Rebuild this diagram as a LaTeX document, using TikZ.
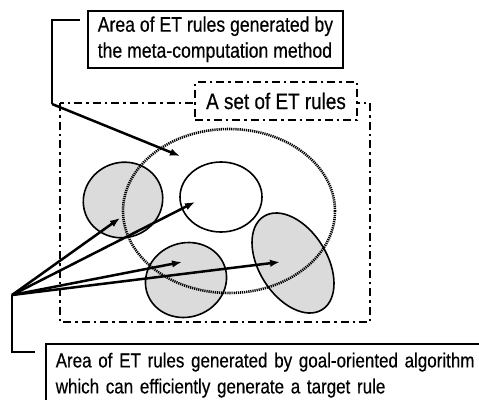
\documentclass[tikz,border=0pt]{standalone}
\usepackage{fontspec}
\usepackage{tikz}
\usetikzlibrary{arrows.meta,shapes.geometric}
\newfontfamily\narrowSans{Liberation Sans}[FakeStretch=0.84, FakeBold=0.4]
\tikzstyle{calloutBox}=[shape = rectangle, draw, line width = 1.5pt, align = left, inner xsep = 10pt, font = \narrowSans\fontsize{21}{26}\selectfont]
\tikzstyle{dashDot}=[line width = 2.4pt, dash pattern = on 8pt off 4pt on 2.5pt off 4pt]

\begin{document}
\begin{tikzpicture}[x = 1pt, y = -1pt]
\tikzstyle{grayArea}=[shape = ellipse, inner sep = 0pt, draw, line width = 1.6pt, fill = black!14]
\tikzstyle{whiteArea}=[shape = ellipse, inner sep = 0pt, draw, line width = 1.6pt]
\tikzstyle{metaArea}=[shape = ellipse, inner sep = 0pt, draw, line width = 2.6pt, dash pattern = on 1.2pt off 0.9pt]
\tikzstyle{setLabel}=[shape = rectangle, draw, dashDot, fill = white, minimum width = 162pt, minimum height = 38pt, font = \narrowSans\fontsize{22.5}{26}\selectfont]
\tikzstyle{leader}=[line width = 2.5pt]
\tikzstyle{pointer}=[line width = 2.5pt, -{Latex[length = 10pt, width = 7.5pt]}]
\useasboundingbox (0,0) rectangle (479,399);
% rule set frame
\draw[dashDot] (60,103) rectangle (370,322);
\node[setLabel] (ruleSet) at (276,101) {A set of ET rules};
% areas
\node[grayArea, minimum width = 80pt, minimum height = 75pt, rotate = 20] (areaLeft) at (123,200) {};
\node[grayArea, minimum width = 82pt, minimum height = 74pt, rotate = 20] (areaBottom) at (186,280) {};
\node[grayArea, minimum width = 110pt, minimum height = 68pt, rotate = -58] (areaRight) at (293,263) {};
\node[metaArea, minimum width = 212pt, minimum height = 164pt] (metaArea) at (229,211) {};
\node[whiteArea, minimum width = 82pt, minimum height = 70pt] (areaTop) at (221,197) {};
% callouts
\node[calloutBox, anchor = north west, minimum width = 255pt, minimum height = 57pt] (metaBox) at (87,10) {Area of ET rules generated by\\the meta-computation method};
\node[calloutBox, anchor = north west, inner ysep = 9pt, text width = 440pt, font = \narrowSans\fontsize{20.2}{26}\selectfont] (goalBox) at (45,343) {Area of ET rules generated by goal-oriented algorithm\\which can efficiently generate a target rule};
\coordinate (metaStart) at (80,20);
\coordinate (metaKnee) at (52,20);
\coordinate (metaBend) at (52,104);
\coordinate (metaTip) at (180,156);
\coordinate (goalRoot) at (12,295);
\coordinate (goalKnee) at (12,352);
\coordinate (goalEnd) at (35,352);
\coordinate (tipLeft) at (120,218);
\coordinate (tipTop) at (195,202);
\coordinate (tipBottom) at (182,262);
\coordinate (tipRight) at (280,262);
\draw[leader] (metaStart) -- (metaKnee) -- (metaBend);
\draw[pointer] (metaBend) -- (metaTip);
\draw[leader] (goalEnd) -- (goalKnee) -- (goalRoot);
\draw[pointer] (goalRoot) -- (tipLeft);
\draw[pointer] (goalRoot) -- (tipTop);
\draw[pointer] (goalRoot) -- (tipBottom);
\draw[pointer] (goalRoot) -- (tipRight);
\end{tikzpicture}
\end{document}
